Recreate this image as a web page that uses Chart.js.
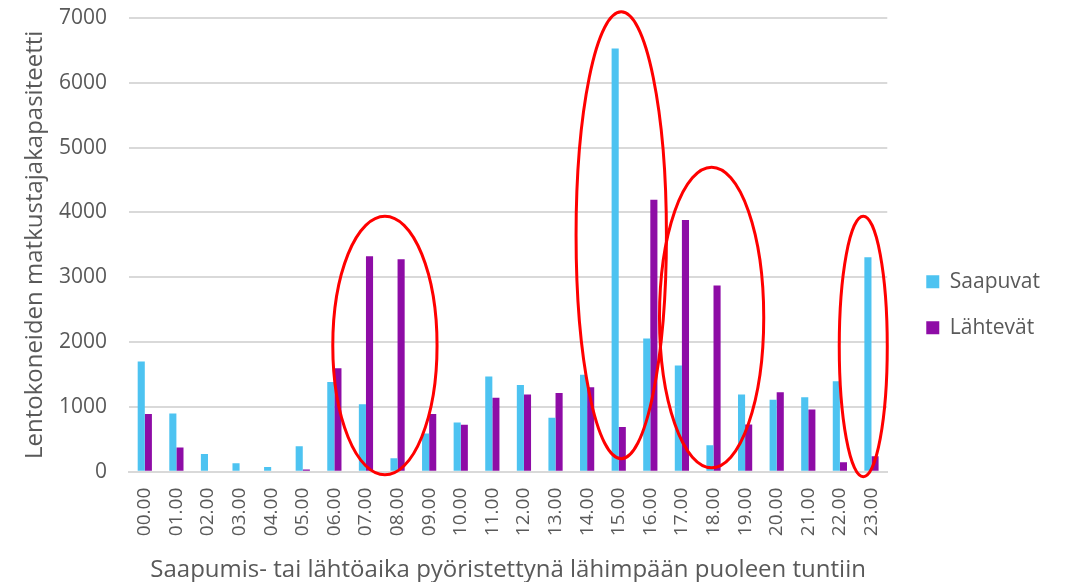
<!DOCTYPE html>
<html>
<head>
<meta charset="utf-8">
<script src="https://cdn.jsdelivr.net/npm/chart.js@4.4.1/dist/chart.umd.min.js"></script>
<style>
  html, body { margin: 0; padding: 0; background: #ffffff; }
  #wrap { width: 1066px; height: 582px; position: relative; }
</style>
</head>
<body>
<div id="wrap"><canvas id="c" width="1066" height="582"></canvas></div>
<script>
const categories = ["00.00","01.00","02.00","03.00","04.00","05.00","06.00","07.00","08.00","09.00","10.00","11.00","12.00","13.00","14.00","15.00","16.00","17.00","18.00","19.00","20.00","21.00","22.00","23.00"];
const saapuvat = [1700, 900, 275, 130, 75, 395, 1385, 1040, 210, 590, 760, 1470, 1340, 835, 1495, 6530, 2055, 1640, 410, 1190, 1110, 1150, 1395, 3310];
const lahtevat = [890, 375, 0, 0, 0, 35, 1595, 3325, 3280, 890, 725, 1140, 1190, 1215, 1305, 690, 4195, 3885, 2875, 730, 1225, 960, 145, 240];
const yTicks = [0, 1000, 2000, 3000, 4000, 5000, 6000, 7000];
// annotation ellipses: center (category index, value) and radii (categories, value units)
const ellipseCx = [7.6, 15.08, 17.94, 22.74];
const ellipseCy = [1947, 3648, 2380, 1932];
const ellipseRx = [1.65, 1.43, 1.65, 0.76];
const ellipseRy = [1994, 3447, 2318, 2009];

const ellipsePlugin = {
  id: 'ellipses',
  afterDatasetsDraw(chart) {
    const ctx = chart.ctx;
    const xs = chart.scales.x, ys = chart.scales.y;
    const step = xs.getPixelForValue(1) - xs.getPixelForValue(0);
    ctx.save();
    ctx.strokeStyle = '#ff0000';
    ctx.lineWidth = 3;
    for (let i = 0; i < ellipseCx.length; i++) {
      const cx = xs.getPixelForValue(0) + ellipseCx[i] * step;
      const cy = ys.getPixelForValue(ellipseCy[i]);
      const rx = ellipseRx[i] * step;
      const ry = ys.getPixelForValue(0) - ys.getPixelForValue(ellipseRy[i]);
      ctx.beginPath();
      ctx.ellipse(cx, cy, rx, ry, 0, 0, Math.PI * 2);
      ctx.stroke();
    }
    ctx.restore();
  }
};

const FONT = '"Open Sans", sans-serif';
const GRAY = '#595959';

new Chart(document.getElementById('c'), {
  type: 'bar',
  data: {
    labels: categories,
    datasets: [
      { label: 'Saapuvat', data: saapuvat, backgroundColor: '#4DC3F1', categoryPercentage: 0.45, barPercentage: 1.0 },
      { label: 'Lähtevät', data: lahtevat, backgroundColor: '#8E0CA6', categoryPercentage: 0.45, barPercentage: 1.0 }
    ]
  },
  options: {
    responsive: false,
    animation: false,
    layout: { padding: { top: 18, left: 17, right: 16, bottom: -3 } },
    plugins: {
      legend: {
        position: 'right',
        title: { display: true, text: ' ', font: { size: 2 }, padding: { top: 2, bottom: 2 } },
        labels: {
          boxWidth: 13, boxHeight: 13, padding: 25,
          color: GRAY,
          font: { family: FONT, size: 21 }
        }
      },
      tooltip: { enabled: false }
    },
    scales: {
      x: {
        grid: { display: false, drawTicks: false },
        border: { display: true, color: '#d9d9d9', width: 2 },
        ticks: {
          color: GRAY, font: { family: FONT, size: 19 },
          minRotation: 90, maxRotation: 90, padding: 16, autoSkip: false
        },
        title: {
          display: true, text: 'Saapumis- tai lähtöaika pyöristettynä lähimpään puoleen tuntiin',
          color: GRAY, font: { family: FONT, size: 24 }, padding: { top: 4, bottom: 0 }
        }
      },
      y: {
        min: 0, max: 7000,
        afterBuildTicks(scale) { scale.ticks = yTicks.map(v => ({ value: v })); },
        afterFit(scale) { scale.width = 112; },
        grid: { color: '#d9d9d9', lineWidth: 2, drawTicks: true, tickLength: 20, tickColor: 'rgba(0,0,0,0)' },
        border: { display: false },
        ticks: { color: GRAY, font: { family: FONT, size: 21 }, padding: 2, callback: v => String(v) },
        title: {
          display: true, text: 'Lentokoneiden matkustajakapasiteetti',
          color: GRAY, font: { family: FONT, size: 24 }, padding: { top: 4, bottom: 8 }
        }
      },
      yRight: {
        position: 'right',
        display: true,
        grid: { display: false, drawTicks: false },
        border: { display: false },
        ticks: { display: false },
        afterFit(scale) { scale.width = 14; }
      }
    }
  },
  plugins: [ellipsePlugin]
});
</script>
</body>
</html>
